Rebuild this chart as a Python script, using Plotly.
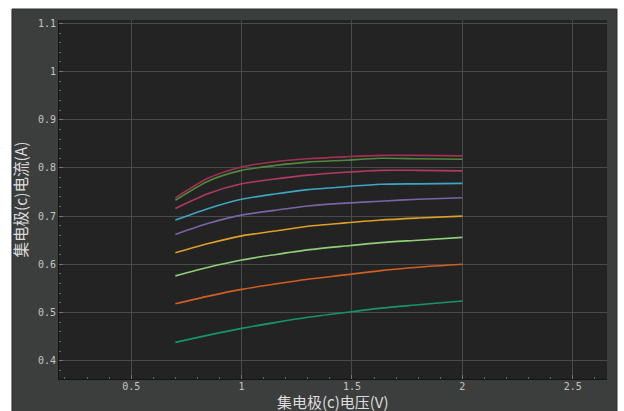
import plotly.graph_objects as go

# Collector voltage sample points (V)
vce = [0.7, 0.85, 1.0, 1.15, 1.3, 1.47, 1.63, 1.8, 2.0]

# Collector current curves (A), one per base drive level
ic_1 = [0.738, 0.779, 0.802, 0.813, 0.819, 0.823, 0.826, 0.826, 0.825]
ic_2 = [0.733, 0.773, 0.795, 0.805, 0.812, 0.816, 0.820, 0.819, 0.818]
ic_3 = [0.716, 0.747, 0.767, 0.777, 0.785, 0.791, 0.795, 0.795, 0.794]
ic_4 = [0.692, 0.716, 0.735, 0.746, 0.755, 0.761, 0.766, 0.767, 0.768]
ic_5 = [0.662, 0.685, 0.702, 0.712, 0.721, 0.727, 0.731, 0.735, 0.738]
ic_6 = [0.624, 0.643, 0.659, 0.669, 0.679, 0.686, 0.692, 0.696, 0.700]
ic_7 = [0.576, 0.594, 0.609, 0.620, 0.630, 0.638, 0.645, 0.650, 0.656]
ic_8 = [0.518, 0.534, 0.548, 0.559, 0.569, 0.578, 0.587, 0.594, 0.600]
ic_9 = [0.438, 0.453, 0.467, 0.479, 0.490, 0.500, 0.509, 0.516, 0.524]

curves = [ic_1, ic_2, ic_3, ic_4, ic_5, ic_6, ic_7, ic_8, ic_9]
colors = ["#a33052", "#4f8a3c", "#b03a62", "#3ea6c2", "#7b64a6",
          "#dca126", "#8fcf78", "#cf5f22", "#17956a"]

x_ticks = [0.5, 1, 1.5, 2, 2.5]
y_ticks = [0.4, 0.5, 0.6, 0.7, 0.8, 0.9, 1, 1.1]

fig = go.Figure()
for ys, c in zip(curves, colors):
    fig.add_trace(go.Scatter(x=vce, y=ys, mode="lines",
                             line=dict(color=c, width=1.6, shape="spline", smoothing=0.7),
                             showlegend=False, hoverinfo="skip"))

tick_font = dict(family="DejaVu Sans Mono", size=10, color="#c4c4c4")
title_font = dict(family="Noto Sans CJK SC", size=15.5, color="#dcdcdc")
xtitle_font = dict(family="Noto Sans CJK SC", size=15, color="#dcdcdc")

axis_common = dict(
    showgrid=True, gridcolor="#4a4a4a", gridwidth=1,
    zeroline=False, showline=True, linecolor="#141414", linewidth=1,
    ticks="inside", ticklen=4, tickcolor="#777777",
    tickfont=tick_font, automargin=False,
)

fig.update_xaxes(range=[0.173, 2.655], tickvals=x_ticks,
                 ticktext=[f"{v:g}" for v in x_ticks],
                 ticklabelstandoff=-2,
                 minor=dict(dtick=0.1, ticks="inside", ticklen=2, tickcolor="#666666", showgrid=False),
                 **axis_common)
fig.update_yaxes(range=[0.362, 1.107], tickvals=y_ticks,
                 ticktext=[f"{v:g}" for v in y_ticks],
                 minor=dict(dtick=0.02, ticks="inside", ticklen=2, tickcolor="#666666", showgrid=False),
                 title=dict(text="集电极(c)电流(A)", font=title_font, standoff=6),
                 **axis_common)

# X-axis title sits at the bottom edge of the panel
fig.add_annotation(text="集电极(c)电压(V)", xref="paper", yref="paper",
                   x=0.5, y=-0.0947, xanchor="center", yanchor="bottom",
                   showarrow=False, font=xtitle_font, borderpad=0)

# Dark outer panel and the plot-area background
fig.add_shape(type="rect", xref="paper", yref="paper", layer="below",
              x0=-0.0858, x1=1.0182, y0=-0.2, y1=1.0306,
              fillcolor="#3c3e3d", line=dict(color="#2a2a2a", width=1))
fig.add_shape(type="rect", xref="x domain", yref="y domain", layer="below",
              x0=0, x1=1, y0=0, y1=1,
              fillcolor="#232323", line=dict(width=0))

fig.update_layout(
    width=624, height=411,
    margin=dict(l=59, r=17, t=20, b=32),
    paper_bgcolor="white", plot_bgcolor="#232323",
)

fig.write_html("out.html")
